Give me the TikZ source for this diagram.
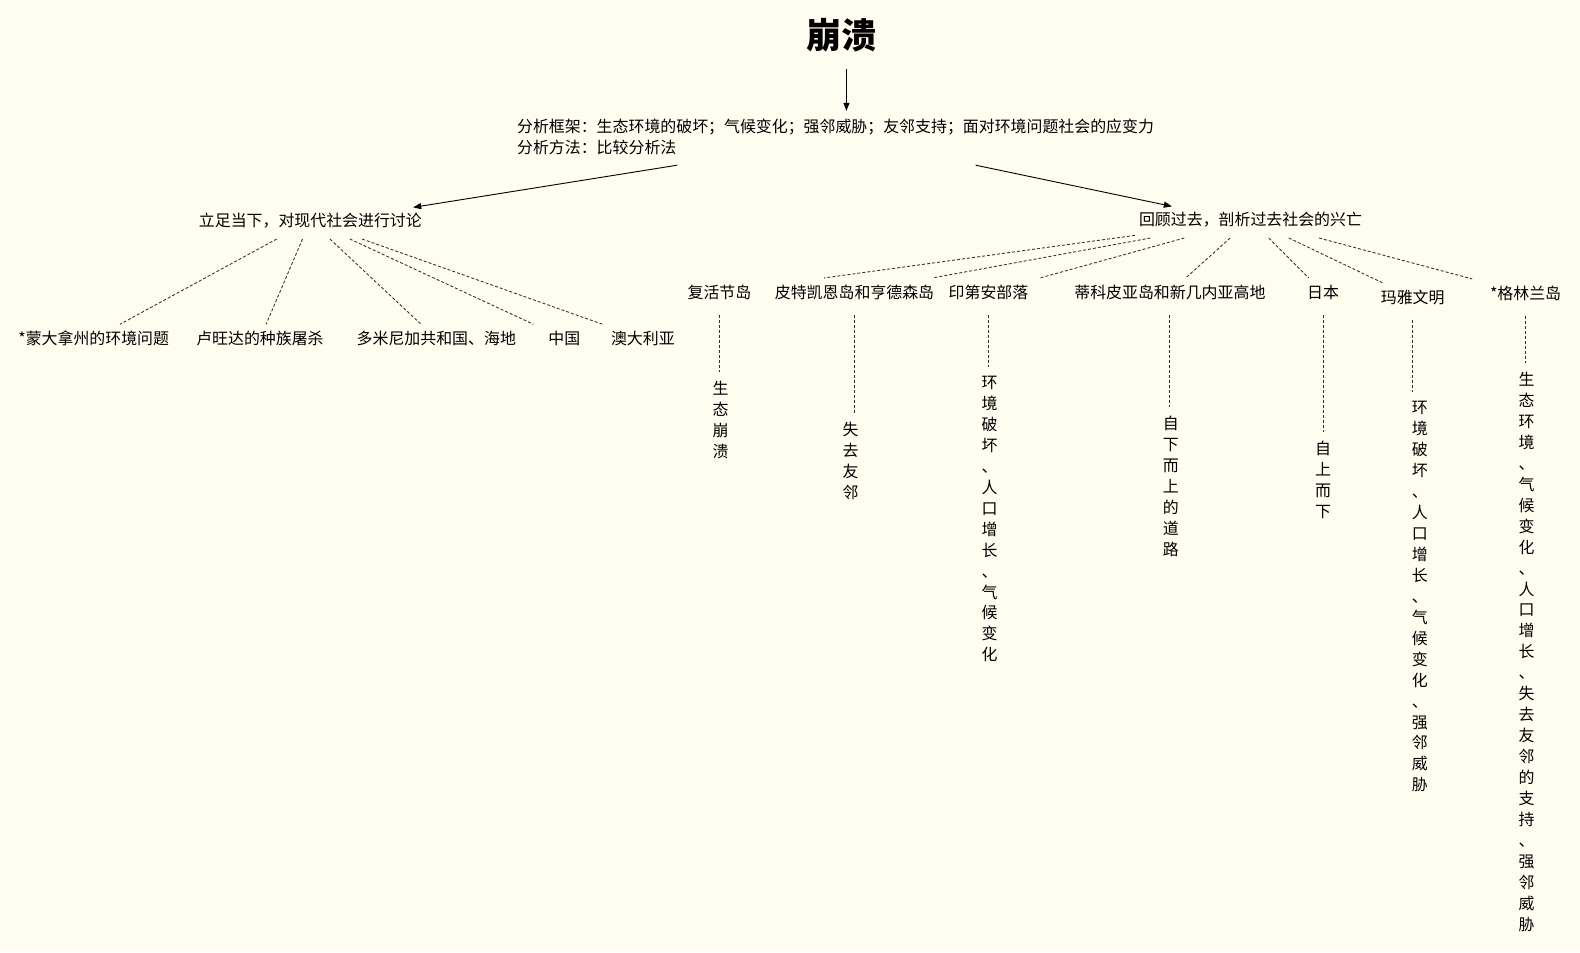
\documentclass[tikz,border=0pt]{standalone}
\usepackage{fontspec}
\setmainfont{Noto Sans CJK SC}
\usetikzlibrary{arrows.meta}
\definecolor{bgc}{HTML}{FFFDF0}
\definecolor{dashc}{HTML}{303030}
\begin{document}
\begin{tikzpicture}[x=1pt,y=-1pt,
  txt/.style={font=\fontsize{15.8}{20.8}\selectfont, inner sep=0pt, text=black},
  parentbox/.style={txt, inner xsep=4pt, minimum height=36pt},
  leaf/.style={txt, minimum width=280pt, minimum height=28pt},
  vtext/.style={txt, align=center, anchor=north},
  arr/.style={-{Triangle[length=8pt,width=6pt]}, line width=0.9pt, black},
  dline/.style={dashc, line width=0.85pt, dash pattern=on 3pt off 2pt},
  vline/.style={dline, shorten <=8pt, shorten >=9pt}]
\fill[bgc] (0,0) rectangle (1568,945);
\useasboundingbox (0,0) rectangle (1568,945);

% title and framework
\node[font=\fontsize{35}{40}\selectfont\bfseries, inner sep=0pt, minimum height=66pt] (T) at (835,35) {崩溃};
\node[txt, align=left, anchor=north west, inner xsep=4pt, inner ysep=8pt] (F) at (509,110)
  {分析框架：生态环境的破坏；气候变化；强邻威胁；友邻支持；面对环境问题社会的应变力\\分析方法：比较分析法};
\draw[arr] ([xshift=5pt]T.south) -- ([xshift=5pt]T.south |- F.north);

% two branches
\node[parentbox] (L) at (308,219) {立足当下，对现代社会进行讨论};
\node[parentbox] (R) at (1241,218) {回顾过去，剖析过去社会的兴亡};
\draw[arr] ([shift={(-157pt,-2pt)}]F.south) -- ([shift={(102pt,-5pt)}]L.north);
\draw[arr] ([shift={(139pt,-2pt)}]F.south) -- ([shift={(-78pt,-5pt)}]R.north);

% modern societies
\node[leaf] (a1) at (93,336) {*蒙大拿州的环境问题};
\node[leaf] (a2) at (258,336) {卢旺达的种族屠杀};
\node[leaf] (a3) at (433,336) {多米尼加共和国、海地};
\node[leaf] (a4) at (560,336) {中国};
\node[leaf] (a5) at (638,336) {澳大利亚};
\foreach \n in {a1,a2,a3,a4,a5} \draw[dline] (L) -- (\n);

% past societies
\node[leaf] (b1) at (714,290) {复活节岛};
\node[leaf] (b2) at (848,290) {皮特凯恩岛和亨德森岛};
\node[leaf] (b3) at (981,290) {印第安部落};
\node[leaf] (b4) at (1161,290) {蒂科皮亚岛和新几内亚高地};
\node[leaf] (b5) at (1313,290) {日本};
\node[leaf] (b6) at (1402,295) {玛雅文明};
\node[leaf] (b7) at (1514,291) {*格林兰岛};
\foreach \n in {b1,b2,b3,b4,b5,b6,b7} \draw[dline] (R) -- (\n);

% vertical notes
\node[vtext] (v1) at (715,378) {生\\态\\崩\\溃};
\node[vtext] (v2) at (844,419) {失\\去\\友\\邻};
\node[vtext] (v3) at (982,373) {环\\境\\破\\坏\\、\\人\\口\\增\\长\\、\\气\\候\\变\\化};
\node[vtext] (v4) at (1162,413) {自\\下\\而\\上\\的\\道\\路};
\node[vtext] (v5) at (1313,438) {自\\上\\而\\下};
\node[vtext] (v6) at (1409,398) {环\\境\\破\\坏\\、\\人\\口\\增\\长\\、\\气\\候\\变\\化\\、\\强\\邻\\威\\胁};
\node[vtext] (v7) at (1515,369) {生\\态\\环\\境\\、\\气\\候\\变\\化\\、\\人\\口\\增\\长\\、\\失\\去\\友\\邻\\的\\支\\持\\、\\强\\邻\\威\\胁};
\draw[vline] (b1) -- (b1 |- v1.north);
\draw[vline] (b2) -- (b2 |- v2.north);
\draw[vline] (b3) -- (b3 |- v3.north);
\draw[vline] (b4) -- (b4 |- v4.north);
\draw[vline] (b5) -- (b5 |- v5.north);
\draw[vline] (b6) -- (b6 |- v6.north);
\draw[vline] (b7) -- (b7 |- v7.north);
\end{tikzpicture}
\end{document}
